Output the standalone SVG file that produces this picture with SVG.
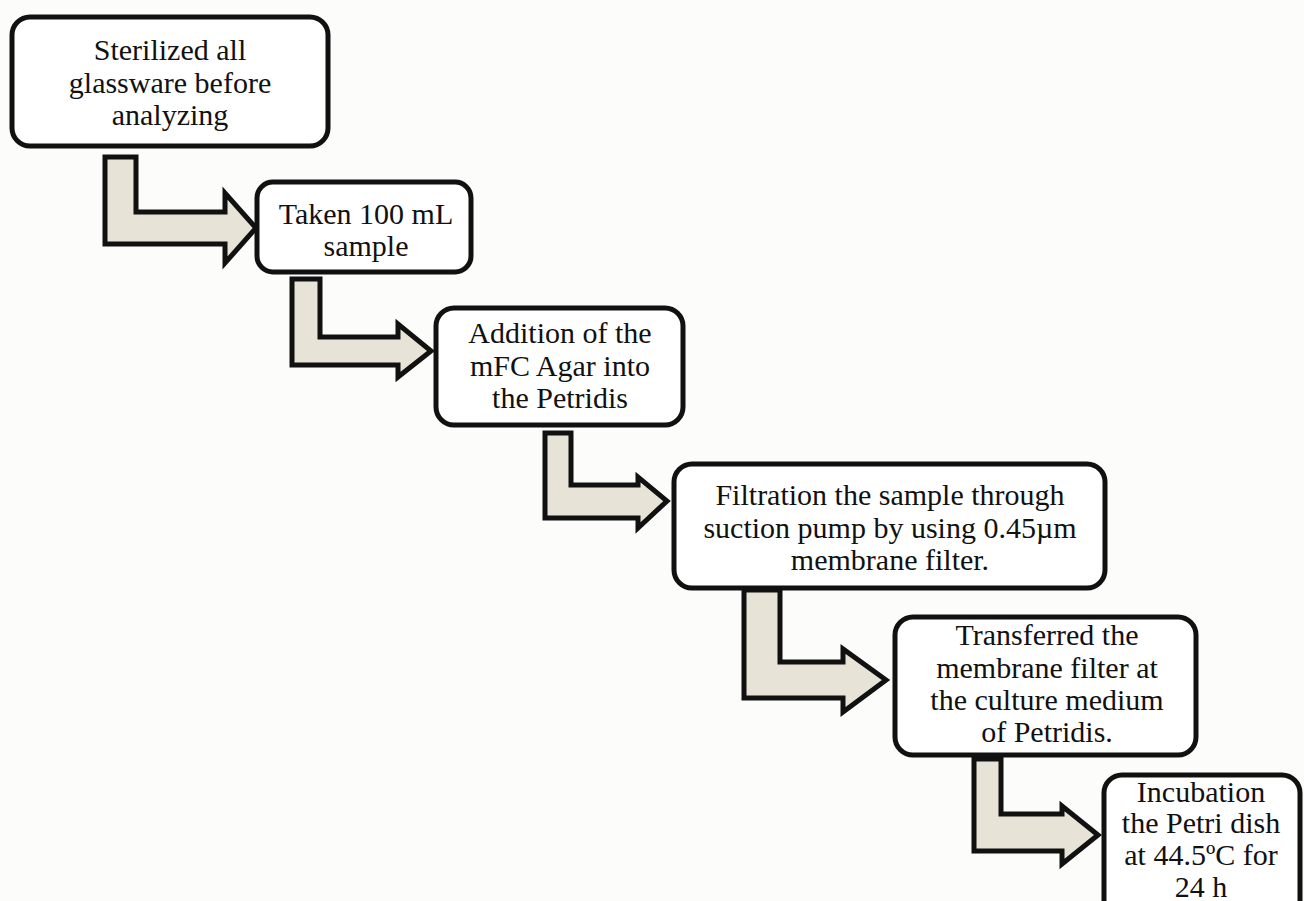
<svg xmlns="http://www.w3.org/2000/svg" width="1304" height="901" viewBox="0 0 1304 901">
<style>
.box{fill:#ffffff;stroke:#111;stroke-width:5}
.arr{fill:#e8e3d7;stroke:#111;stroke-width:5;stroke-linejoin:miter}
text{font-family:"Liberation Serif","Times New Roman",serif;font-size:30px;fill:#111;text-anchor:middle}
</style>
<rect width="1304" height="901" fill="#fcfcfb"/>
<g id="connectors">
<polygon class="arr" points="105,157 136,157 136,212 225,212 225,193 256,228 225,263 225,244 105,244"/>
<polygon class="arr" points="292,279 320,279 320,337 398,337 398,324 431,351 398,377 398,365 292,365"/>
<polygon class="arr" points="545,433 571,433 571,485 638,485 638,477 667,501 638,528 638,518 545,518"/>
<polygon class="arr" points="744,590 780,590 780,662 843,662 843,649 886,680 843,712 843,698 744,698"/>
<polygon class="arr" points="974,759 1001,759 1001,814 1062,814 1062,806 1098,835 1062,864 1062,851 974,851"/>
</g>
<g id="node1">
<rect class="box" x="12" y="17" width="316" height="129" rx="18"/>
<text x="170" y="60">Sterilized all</text>
<text x="170" y="93">glassware before</text>
<text x="170" y="125">analyzing</text>
</g>
<g id="node2">
<rect class="box" x="257" y="182" width="214" height="90" rx="16"/>
<text x="366" y="224">Taken 100 mL</text>
<text x="366" y="256">sample</text>
</g>
<g id="node3">
<rect class="box" x="436" y="308" width="247" height="117" rx="18"/>
<text x="560" y="343">Addition of the</text>
<text x="560" y="376">mFC Agar into</text>
<text x="560" y="408">the Petridis</text>
</g>
<g id="node4">
<rect class="box" x="674" y="464" width="431" height="124" rx="18"/>
<text x="890" y="505">Filtration the sample through</text>
<text x="890" y="538">suction pump by using 0.45µm</text>
<text x="890" y="570">membrane filter.</text>
</g>
<g id="node5">
<rect class="box" x="895" y="617" width="301" height="138" rx="18"/>
<text x="1047" y="645">Transferred the</text>
<text x="1047" y="678">membrane filter at</text>
<text x="1047" y="710">the culture medium</text>
<text x="1047" y="742">of Petridis.</text>
</g>
<g id="node6">
<rect class="box" x="1104" y="775" width="196" height="150" rx="18"/>
<text x="1201" y="802">Incubation</text>
<text x="1201" y="833">the Petri dish</text>
<text x="1201" y="865">at 44.5ºC for</text>
<text x="1201" y="897">24 h</text>
</g>
</svg>
